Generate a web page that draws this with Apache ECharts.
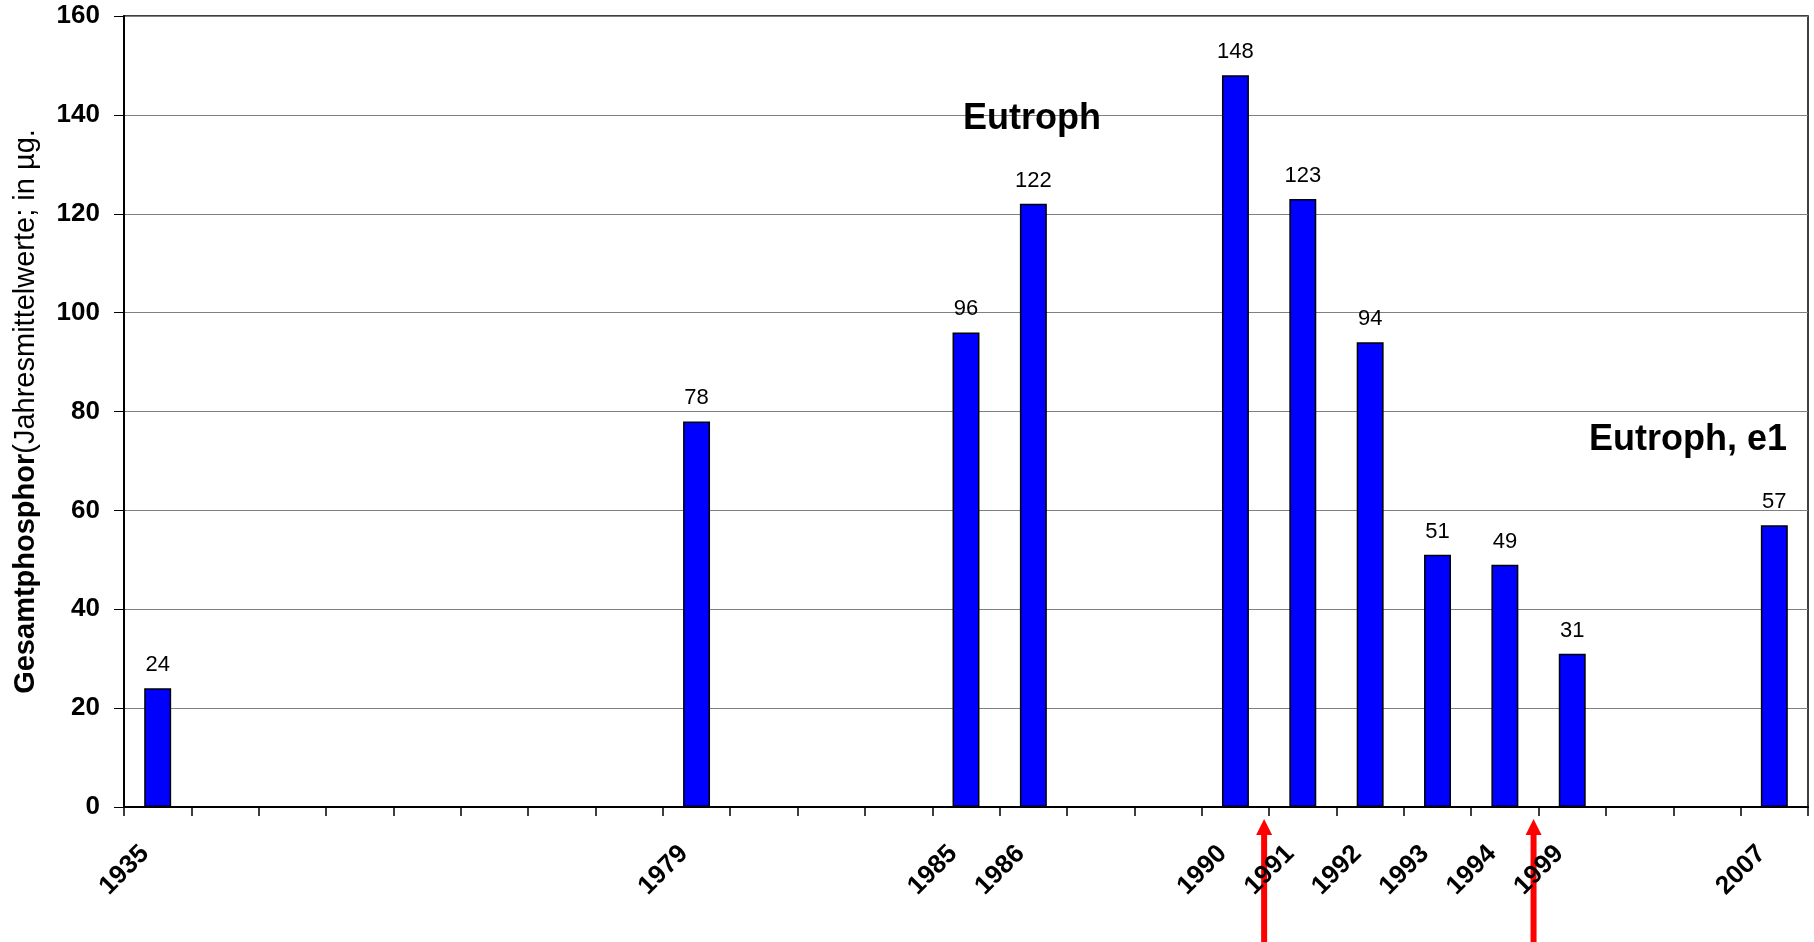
<!DOCTYPE html>
<html>
<head>
    <meta charset="utf-8">
    <title>Gesamtphosphor</title>
    <script src="https://cdn.jsdelivr.net/npm/echarts@6/dist/echarts.min.js"></script>
    <style>
        html, body { margin: 0; padding: 0; background: #fff; }
        #chart { width: 1814px; height: 942px; }
    </style>
</head>
<body>
<div id="chart"></div>
<script>
    // Kategorien (leere Stellen = Jahre ohne Messung)
    var years = ['1935', '', '', '', '', '', '', '', '1979', '', '', '', '1985', '1986', '', '',
        '1990', '1991', '1992', '1993', '1994', '1999', '', '', '2007'];
    // Gesamtphosphor, Jahresmittelwerte in µg
    var phosphor = [24, null, null, null, null, null, null, null, 78, null, null, null, 96, 122, null, null,
        148, 123, 94, 51, 49, 31, null, null, 57];
    var yTicks = [0, 20, 40, 60, 80, 100, 120, 140, 160];
    // Pfeile stehen jeweils rechts nach diesen Jahren
    var arrowAfter = ['1990', '1994'];

    var font = 'Liberation Sans, Arial, sans-serif';
    var myChart = echarts.init(document.getElementById('chart'));

    myChart.setOption({
        animation: false,
        grid: {
            left: 124, top: 16, right: 6, bottom: 135,
            show: true, borderColor: '#000', borderWidth: 1.5
        },
        xAxis: {
            type: 'category',
            data: years,
            boundaryGap: true,
            axisLine: { lineStyle: { color: '#000', width: 2 } },
            axisTick: { show: true, length: 9, interval: 0, lineStyle: { color: '#000', width: 1.5 } },
            axisLabel: {
                interval: 0, rotate: 45, margin: 30,
                padding: [0, 18, 0, 0],
                color: '#000', fontFamily: font, fontWeight: 'bold', fontSize: 26
            }
        },
        yAxis: {
            type: 'value',
            min: yTicks[0],
            max: yTicks[yTicks.length - 1],
            interval: 20,
            name: '{b|Gesamtphosphor}{n|(Jahresmittelwerte; in µg.}',
            nameLocation: 'middle',
            nameGap: 84,
            nameTextStyle: {
                rich: {
                    b: { fontFamily: font, fontWeight: 'bold', fontSize: 29, color: '#000' },
                    n: { fontFamily: font, fontSize: 29, color: '#000' }
                }
            },
            axisLine: { show: true, lineStyle: { color: '#000', width: 2 } },
            axisTick: { show: true, length: 10, lineStyle: { color: '#000', width: 1 } },
            axisLabel: { margin: 24, color: '#000', fontFamily: font, fontWeight: 'bold', fontSize: 26 },
            splitLine: { lineStyle: { color: '#808080', width: 1.2 } }
        },
        series: [{
            type: 'bar',
            data: phosphor,
            barWidth: '40%',
            itemStyle: { color: '#0000ff', borderColor: '#000', borderWidth: 1.5 },
            label: {
                show: true, position: 'top', distance: 12,
                color: '#000', fontFamily: font, fontSize: 22
            }
        }]
    });

    // Beschriftungen und rote Pfeile
    function drawExtras() {
        var c0 = myChart.convertToPixel({ xAxisIndex: 0 }, 0);
        var c1 = myChart.convertToPixel({ xAxisIndex: 0 }, 1);
        var band = c1 - c0;
        var axisY = myChart.convertToPixel({ yAxisIndex: 0 }, 0);
        var elements = [
            {
                type: 'text', left: 963, top: 101,
                style: { text: 'Eutroph', fill: '#000', font: 'bold 36px ' + font }
            },
            {
                type: 'text', right: 1814 - 1787, top: 422,
                style: { text: 'Eutroph, e1', fill: '#000', font: 'bold 36px ' + font }
            }
        ];
        arrowAfter.forEach(function (y) {
            var idx = years.indexOf(y);
            var x = myChart.convertToPixel({ xAxisIndex: 0 }, idx) + band / 2 - 5;
            var tip = axisY + 12;
            elements.push({
                type: 'polygon',
                shape: { points: [[x, tip], [x - 8, tip + 16], [x + 8, tip + 16]] },
                style: { fill: '#ff0000' }
            });
            elements.push({
                type: 'rect',
                shape: { x: x - 3, y: tip + 14, width: 6, height: 942 - tip - 14 },
                style: { fill: '#ff0000' }
            });
        });
        myChart.setOption({ graphic: elements });
    }
    drawExtras();
</script>
</body>
</html>
